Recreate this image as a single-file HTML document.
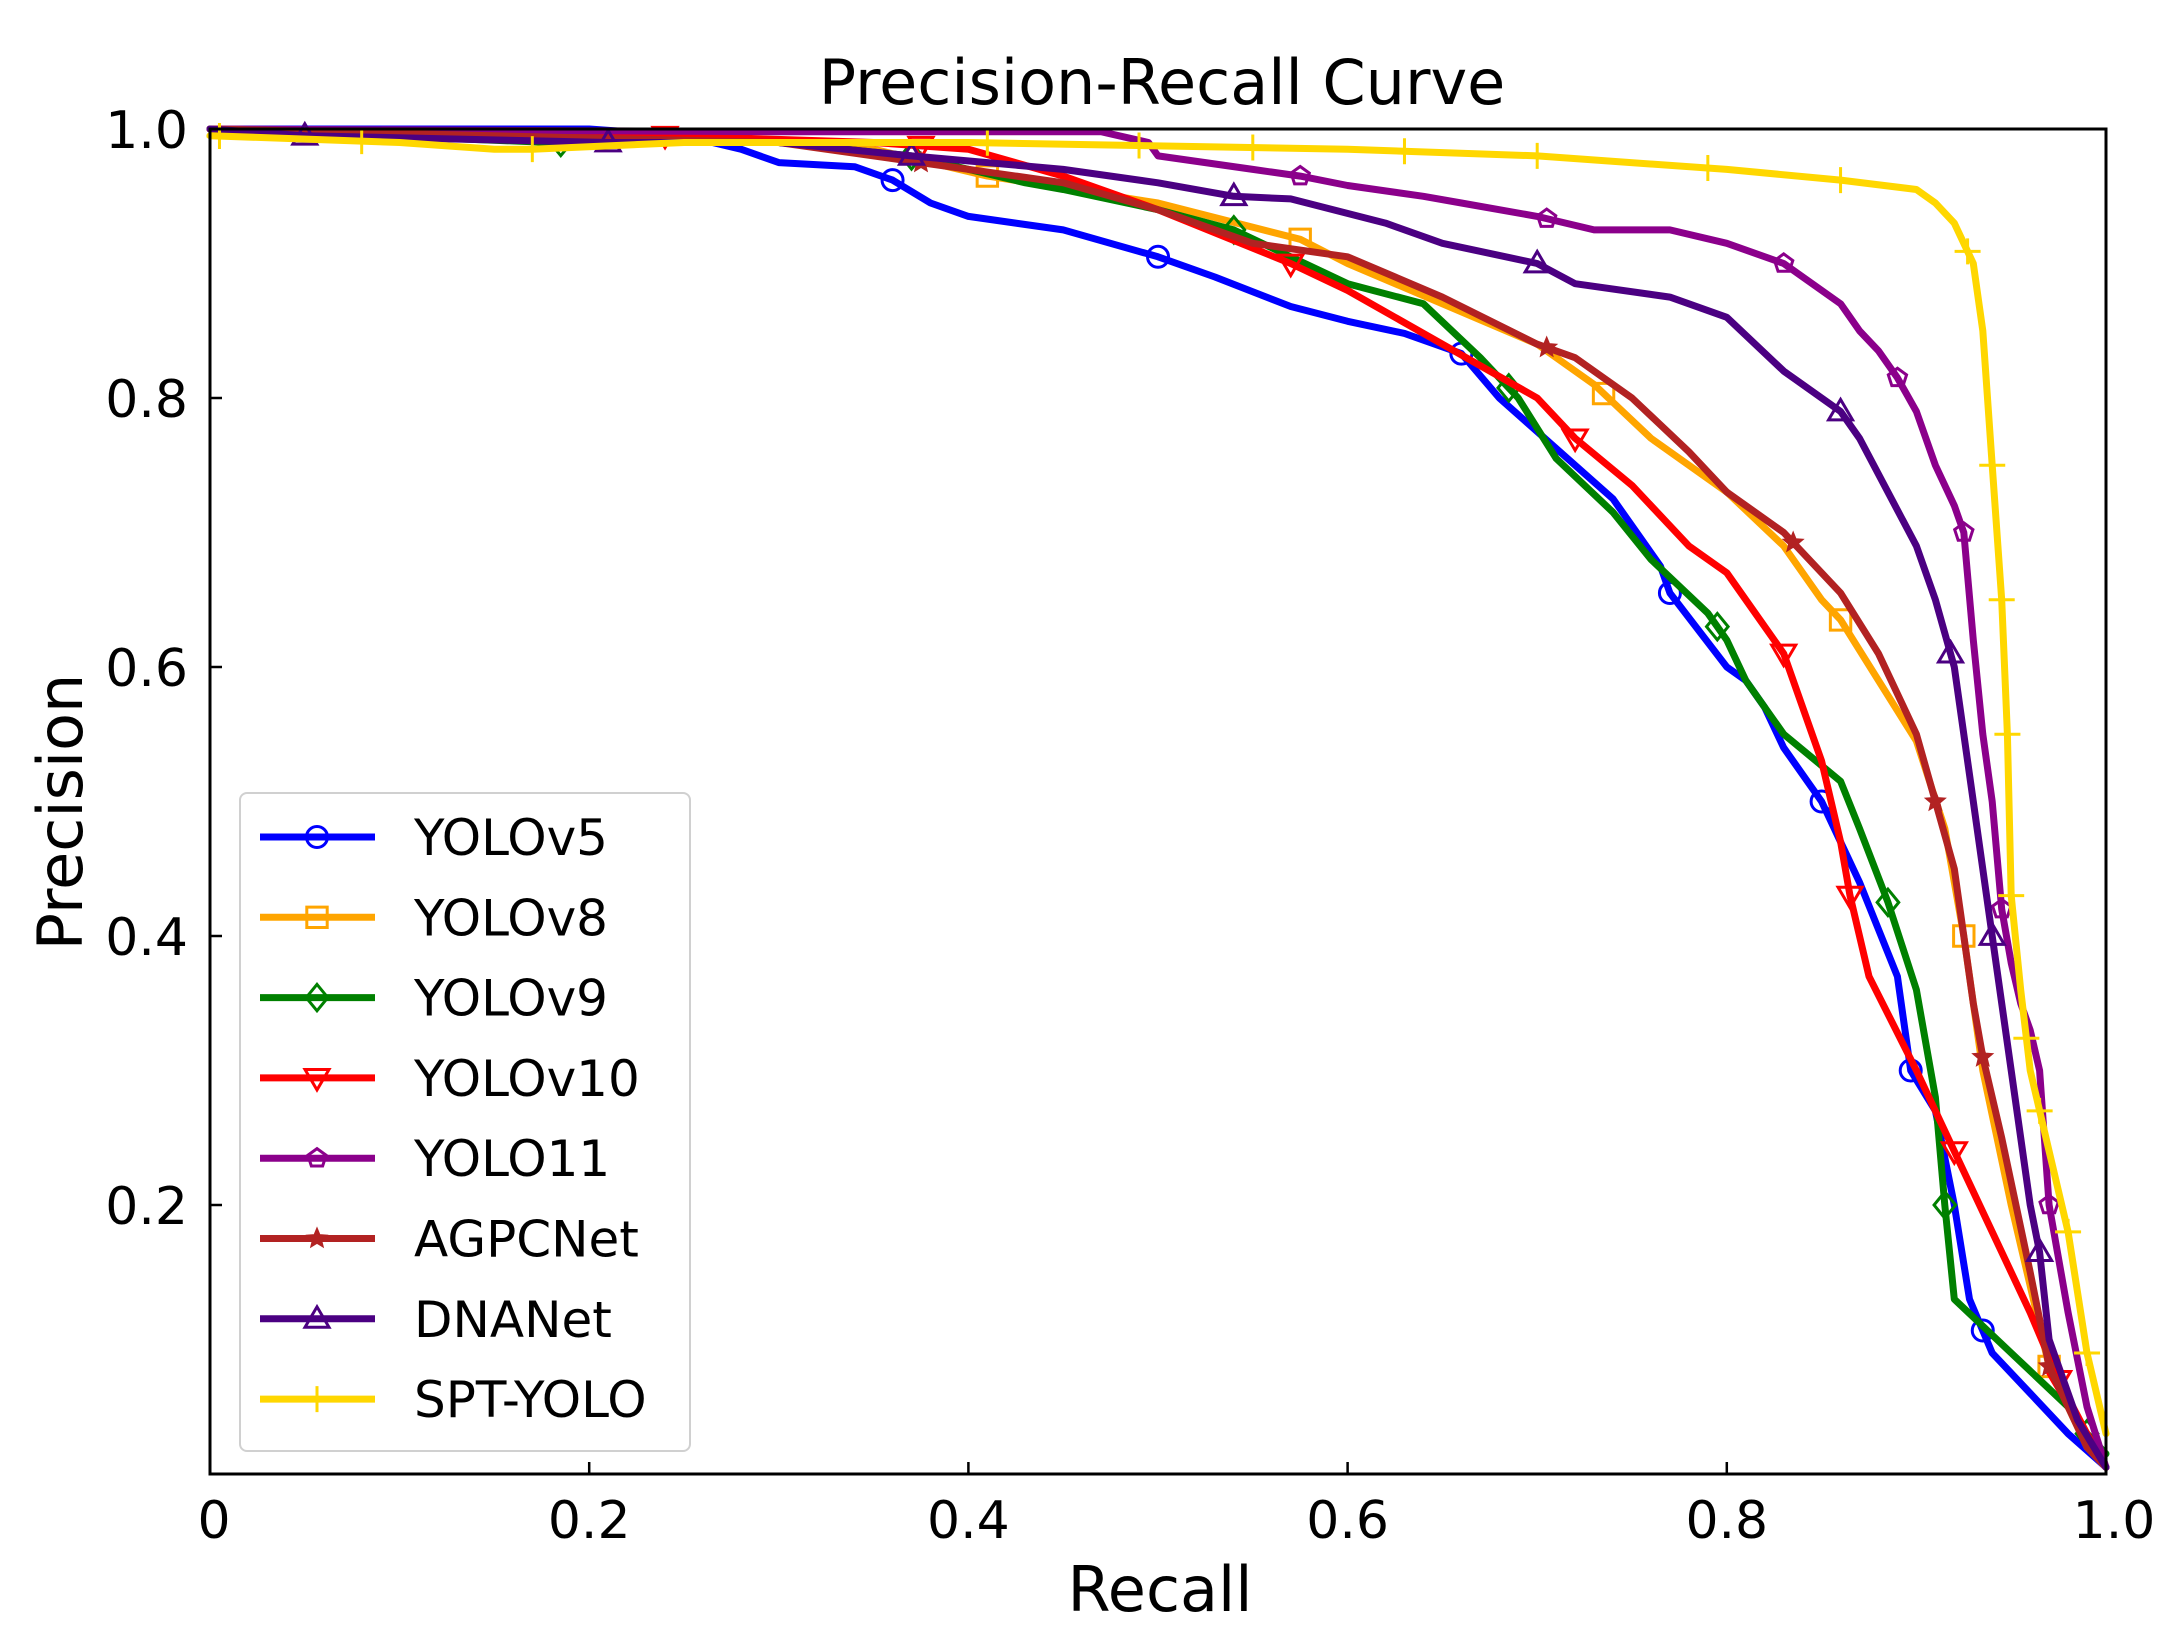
<!DOCTYPE html>
<html><head><meta charset="utf-8"><style>
html,body{margin:0;padding:0;background:#fff;}
svg{display:block;font-family:"DejaVu Sans","Liberation Sans",sans-serif;}
</style></head><body>
<svg id="chart" width="2165" height="1646" viewBox="0 0 2165 1646" xmlns="http://www.w3.org/2000/svg">
<rect width="2165" height="1646" fill="#fff"/>
<text x="1162" y="104" text-anchor="middle" font-size="62" fill="#000">Precision-Recall Curve</text>
<text x="1160" y="1611" text-anchor="middle" font-size="62" fill="#000">Recall</text>
<text transform="translate(82,812) rotate(-90)" text-anchor="middle" font-size="62" fill="#000">Precision</text>
<g id="ticks"></g>
<g id="series"></g>
<rect x="210" y="129" width="1896" height="1345" fill="none" stroke="#000" stroke-width="3"/>
<g id="legend"></g>
</svg>
<script>
const xTicks=[0,0.2,0.4,0.6,0.8,1.0];
const xTickLabels=["0","0.2","0.4","0.6","0.8","1.0"];
const yTicks=[0.2,0.4,0.6,0.8,1.0];
const yTickLabels=["0.2","0.4","0.6","0.8","1.0"];
const seriesNames=["YOLOv5","YOLOv8","YOLOv9","YOLOv10","YOLO11","AGPCNet","DNANet","SPT-YOLO"];
const seriesColors=["#0000ff","#ffa500","#008000","#ff0000","#8b008b","#b22222","#4b0082","#ffd700"];
const seriesMarkers=["circle","square","diamond","tridown","pentagon","star","triangle","plus"];
const yolov5=[[0,1],[0.2,1],[0.25,0.995],[0.28,0.985],[0.3,0.975],[0.34,0.972],[0.36,0.962],[0.38,0.945],[0.4,0.935],[0.45,0.925],[0.5,0.905],[0.53,0.89],[0.57,0.868],[0.6,0.857],[0.63,0.848],[0.66,0.833],[0.68,0.8],[0.7,0.775],[0.74,0.725],[0.765,0.675],[0.77,0.655],[0.8,0.6],[0.81,0.59],[0.82,0.57],[0.83,0.54],[0.85,0.5],[0.87,0.44],[0.89,0.37],[0.897,0.3],[0.91,0.27],[0.92,0.2],[0.928,0.13],[0.94,0.09],[0.96,0.06],[0.98,0.03],[1,0.005]];
const yolov8=[[0,1],[0.25,0.995],[0.3,0.99],[0.35,0.985],[0.41,0.965],[0.5,0.945],[0.575,0.918],[0.6,0.9],[0.65,0.87],[0.7,0.84],[0.73,0.81],[0.76,0.77],[0.8,0.73],[0.83,0.69],[0.85,0.65],[0.86,0.635],[0.88,0.59],[0.9,0.545],[0.915,0.48],[0.925,0.4],[0.935,0.3],[0.95,0.2],[0.97,0.08],[0.99,0.02],[1,0.005]];
const yolov9=[[0,1],[0.18,0.99],[0.3,0.99],[0.37,0.98],[0.43,0.96],[0.45,0.955],[0.5,0.94],[0.54,0.925],[0.6,0.885],[0.64,0.87],[0.67,0.83],[0.69,0.8],[0.71,0.755],[0.74,0.715],[0.76,0.68],[0.79,0.64],[0.8,0.62],[0.81,0.59],[0.83,0.55],[0.86,0.515],[0.87,0.48],[0.885,0.425],[0.9,0.36],[0.91,0.28],[0.915,0.2],[0.92,0.13],[0.95,0.09],[0.98,0.05],[0.99,0.03],[1,0.015]];
const yolov10=[[0,1],[0.24,0.995],[0.35,0.99],[0.4,0.985],[0.45,0.965],[0.5,0.94],[0.57,0.9],[0.6,0.88],[0.65,0.84],[0.7,0.8],[0.72,0.77],[0.75,0.735],[0.78,0.69],[0.8,0.67],[0.83,0.61],[0.85,0.53],[0.86,0.47],[0.865,0.43],[0.875,0.37],[0.9,0.3],[0.92,0.24],[0.94,0.18],[0.96,0.12],[0.975,0.07],[0.99,0.03],[1,0.005]];
const yolo11=[[0,1],[0.3,0.998],[0.47,0.998],[0.495,0.99],[0.5,0.98],[0.55,0.97],[0.575,0.965],[0.6,0.958],[0.64,0.95],[0.66,0.945],[0.7,0.935],[0.73,0.925],[0.77,0.925],[0.8,0.915],[0.83,0.9],[0.86,0.87],[0.87,0.85],[0.88,0.835],[0.89,0.815],[0.9,0.79],[0.91,0.75],[0.92,0.72],[0.925,0.7],[0.93,0.62],[0.935,0.55],[0.94,0.5],[0.945,0.42],[0.95,0.38],[0.955,0.35],[0.96,0.33],[0.965,0.3],[0.97,0.2],[0.98,0.12],[0.99,0.05],[1,0.005]];
const agpcnet=[[0,1],[0.3,0.99],[0.375,0.975],[0.45,0.96],[0.5,0.94],[0.55,0.915],[0.6,0.905],[0.65,0.875],[0.7,0.84],[0.72,0.83],[0.75,0.8],[0.78,0.76],[0.8,0.73],[0.83,0.7],[0.86,0.655],[0.88,0.61],[0.9,0.55],[0.91,0.5],[0.92,0.45],[0.93,0.35],[0.935,0.31],[0.945,0.25],[0.96,0.15],[0.97,0.08],[0.99,0.02],[1,0.005]];
const dnanet=[[0,1],[0.05,0.995],[0.21,0.99],[0.3,0.99],[0.37,0.98],[0.45,0.97],[0.5,0.96],[0.54,0.95],[0.57,0.948],[0.62,0.93],[0.65,0.915],[0.7,0.9],[0.72,0.885],[0.77,0.875],[0.8,0.86],[0.83,0.82],[0.86,0.79],[0.87,0.77],[0.9,0.69],[0.91,0.65],[0.92,0.6],[0.93,0.5],[0.94,0.4],[0.95,0.3],[0.96,0.2],[0.965,0.165],[0.97,0.1],[0.985,0.04],[1,0.005]];
const sptyolo=[[0,0.995],[0.1,0.99],[0.15,0.985],[0.17,0.985],[0.25,0.99],[0.4,0.99],[0.6,0.985],[0.7,0.98],[0.8,0.97],[0.86,0.962],[0.9,0.955],[0.91,0.945],[0.92,0.93],[0.93,0.9],[0.935,0.85],[0.94,0.75],[0.945,0.65],[0.948,0.55],[0.95,0.43],[0.955,0.36],[0.96,0.3],[0.97,0.24],[0.98,0.18],[0.99,0.09],[1,0.03]];
const markerRecalls=[
 [0.36,0.5,0.66,0.77,0.85,0.897,0.935],
 [0.41,0.575,0.735,0.86,0.925,0.97],
 [0.185,0.37,0.54,0.685,0.795,0.885,0.915,0.99],
 [0.24,0.375,0.57,0.72,0.83,0.865,0.92,0.975],
 [0.575,0.705,0.83,0.89,0.925,0.945,0.97],
 [0.375,0.705,0.835,0.91,0.935,0.97],
 [0.05,0.21,0.37,0.54,0.7,0.86,0.918,0.94,0.965],
 [0.005,0.08,0.17,0.41,0.49,0.55,0.63,0.7,0.79,0.86,0.927,0.94,0.945,0.948,0.95,0.958,0.965,0.98,0.99]
];
const allSeries=[yolov5,yolov8,yolov9,yolov10,yolo11,agpcnet,dnanet,sptyolo];
const NS="http://www.w3.org/2000/svg";
const L=210,R=2106,T=129,B=1474;
function sx(v){return L+v*(R-L);}
function sy(v){return B-v*(B-T);}
function mk(tag,attrs,parent){const e=document.createElementNS(NS,tag);for(const k in attrs)e.setAttribute(k,attrs[k]);parent.appendChild(e);return e;}
function interp(d,x){for(let i=1;i<d.length;i++){if(x<=d[i][0]){const a=d[i-1],b=d[i];const t=b[0]===a[0]?0:(x-a[0])/(b[0]-a[0]);return a[1]+t*(b[1]-a[1]);}}return d[d.length-1][1];}
function markerPath(type,cx,cy,s){
 const r=s/2;
 switch(type){
  case"square":return`M${cx-r*0.85},${cy-r*0.85}h${1.7*r}v${1.7*r}h${-1.7*r}Z`;
  case"diamond":return`M${cx},${cy-r*1.1}L${cx+r*0.9},${cy}L${cx},${cy+r*1.1}L${cx-r*0.9},${cy}Z`;
  case"tridown":return`M${cx-r},${cy-r*0.7}L${cx+r},${cy-r*0.7}L${cx},${cy+r}Z`;
  case"triangle":return`M${cx-r},${cy+r*0.7}L${cx+r},${cy+r*0.7}L${cx},${cy-r}Z`;
  case"pentagon":{let p="";for(let i=0;i<5;i++){const a=-Math.PI/2+i*2*Math.PI/5;p+=(i?"L":"M")+(cx+r*0.8*Math.cos(a))+","+(cy+r*0.8*Math.sin(a));}return p+"Z";}
  case"star":{let p="";for(let i=0;i<10;i++){const a=-Math.PI/2+i*Math.PI/5;const rr=i%2?r*0.4:r*0.9;p+=(i?"L":"M")+(cx+rr*Math.cos(a))+","+(cy+rr*Math.sin(a));}return p+"Z";}
  case"plus":return`M${cx-r},${cy}H${cx+r}M${cx},${cy-r}V${cy+r}`;
 }
 return "";
}
function drawMarker(type,cx,cy,color,parent,name){
 let e;
 if(type==="circle"){e=mk("circle",{cx:cx,cy:cy,r:10.5,fill:"none",stroke:color,"stroke-width":3},parent);}
 else if(type==="star"){e=mk("path",{d:markerPath(type,cx,cy,24),fill:color,stroke:color,"stroke-width":1},parent);}
 else{e=mk("path",{d:markerPath(type,cx,cy,type==="plus"?26:24),fill:"none",stroke:color,"stroke-width":3},parent);}
 
 
 return e;
}
const tg=document.getElementById("ticks");
xTicks.forEach((v,i)=>{
 const ln=mk("line",{x1:sx(v),x2:sx(v),y1:B,y2:B-12,stroke:"#000","stroke-width":2.5},tg);
 
 
 const t=mk("text",{x:sx(v)+(v===1?8:v===0?4:0),y:B+64,"text-anchor":"middle","font-size":52,fill:"#000"},tg);
 t.textContent=xTickLabels[i];
 
 
});
yTicks.forEach((v,i)=>{
 const ln=mk("line",{x1:L,x2:L+12,y1:sy(v),y2:sy(v),stroke:"#000","stroke-width":2.5},tg);
 
 
 const t=mk("text",{x:L-22,y:sy(v)+19,"text-anchor":"end","font-size":52,fill:"#000"},tg);
 t.textContent=yTickLabels[i];
 
 
});
const sg=document.getElementById("series");
allSeries.forEach((d,si)=>{
 const g=mk("g",{},sg);
 
 
 const pts=d.map(p=>sx(p[0]).toFixed(1)+","+sy(p[1]).toFixed(1)).join(" ");
 const pl=mk("polyline",{points:pts,fill:"none",stroke:seriesColors[si],"stroke-width":7,"stroke-linejoin":"round","stroke-linecap":"round"},g);
 
 
 markerRecalls[si].forEach(r=>{
  drawMarker(seriesMarkers[si],sx(r),sy(interp(d,r)),seriesColors[si],g,'marker-'+seriesNames[si].toLowerCase());
 });
});
const lg=document.getElementById("legend");
const box=mk("rect",{x:240,y:793,width:450,height:658,rx:7,fill:"#fff","fill-opacity":0.85,stroke:"#d0d0d0","stroke-width":2},lg);


seriesNames.forEach((n,i)=>{
 const y=837+i*80.3;
 const g=mk("g",{},lg);
 
 
 mk("line",{x1:260,x2:375,y1:y,y2:y,stroke:seriesColors[i],"stroke-width":7},g);
 drawMarker(seriesMarkers[i],317,y,seriesColors[i],g,'legend-marker');
 const t=mk("text",{x:414,y:y+18,"font-size":50,fill:"#000"},g);
 t.textContent=n;
 
 
});
</script>
</body></html>
